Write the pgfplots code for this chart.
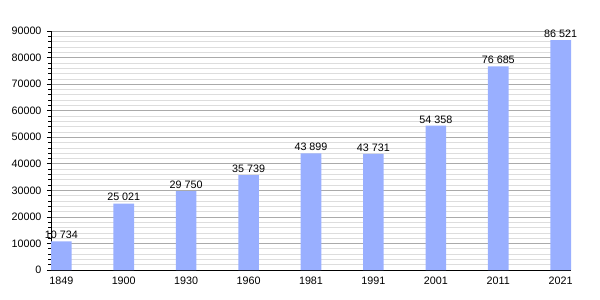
\documentclass[border=0pt]{standalone}
\usepackage{pgfplots}
\pgfplotsset{compat=1.18}
\usepackage{fontspec}
\setmainfont{Liberation Sans}
\definecolor{barblue}{RGB}{153,175,255}
\definecolor{majgrid}{RGB}{170,170,170}
\definecolor{mingrid}{RGB}{221,221,221}
\begin{document}
\begin{tikzpicture}[x=1bp,y=1bp]
\begin{axis}[
  at={(0,0)}, anchor=south west,
  scale only axis,
  width=520bp, height=239bp,
  xmin=-0.165, xmax=8.165,
  ymin=0, ymax=90000,
  axis x line=bottom, axis y line=left,
  axis line style={black, line width=1pt, -},
  xtick=data,
  xticklabels={1849,1900,1930,1960,1981,1991,2001,2011,2021},
  x tick style={draw=none},
  ytick={0,10000,...,90000},
  scaled y ticks=false,
  minor y tick num=4,
  y tick style={black, line width=0.6pt},
  tick align=outside,
  major tick length=4bp,
  minor tick length=2.5bp,
  ymajorgrids, yminorgrids,
  major grid style={majgrid, line width=0.7pt},
  minor grid style={mingrid, line width=0.6pt},
  tick label style={font=\fontsize{10.8}{12}\selectfont},
  /pgf/number format/assume math mode=true,
  yticklabel style={/pgf/number format/1000 sep={}, xshift=-2bp},
  xticklabel style={yshift=1bp},
  ybar, bar width=0.33,
  nodes near coords,
  every node near coord/.append style={font=\fontsize{10.8}{12}\selectfont, /pgf/number format/1000 sep={\ }, /pgf/number format/assume math mode=true, yshift=-1bp},
  clip=false,
]
\addplot[fill=barblue, draw=none] coordinates {
(0,10734) (1,25021) (2,29750) (3,35739) (4,43899) (5,43731) (6,54358) (7,76685) (8,86521)
};
\end{axis}
\path[use as bounding box] (-51bp,-30bp) rectangle (549bp,270bp);
\end{tikzpicture}
\end{document}
